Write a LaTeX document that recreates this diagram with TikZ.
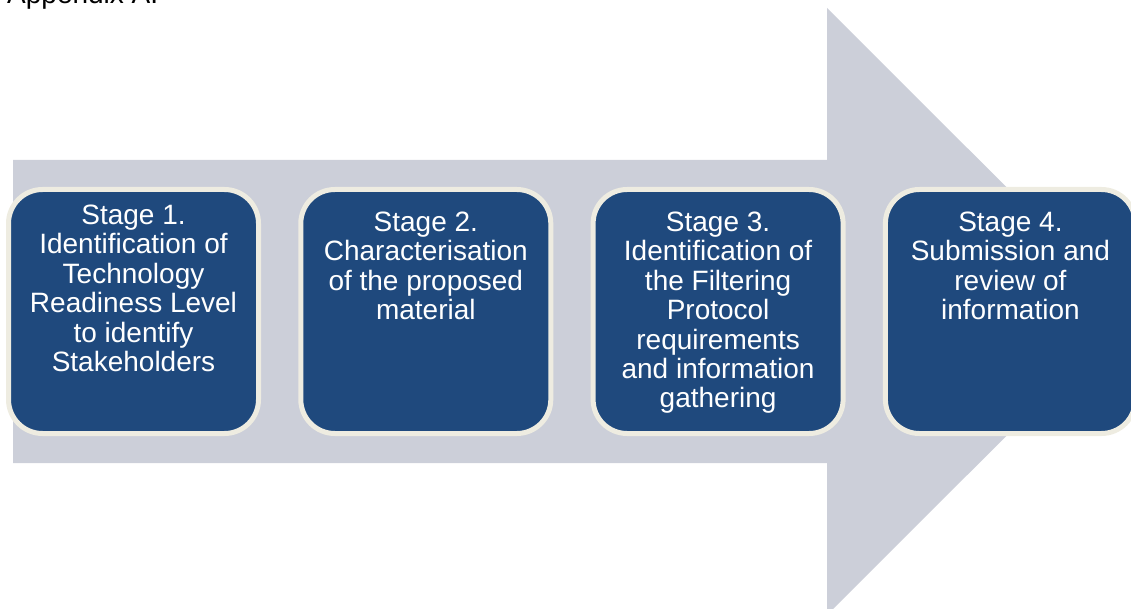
\documentclass[tikz,border=0pt]{standalone}
\usepackage{fontspec}
\setmainfont{Liberation Sans}
\usetikzlibrary{positioning}
\definecolor{stageblue}{RGB}{31,73,125}
\definecolor{stagerim}{RGB}{238,236,225}
\definecolor{arrowgray}{RGB}{204,207,217}

\begin{document}
\begin{tikzpicture}[x=1pt, y=-1pt, line join=miter]

% --------- styles ----------
\tikzset{
  stagebox/.style={draw=stagerim, line width=5pt, fill=stageblue, rounded corners=34pt,
    minimum width=250pt, minimum height=244pt, inner sep=0pt},
  stagetext/.style={text=white, align=center, inner sep=0pt,
    font=\fontsize{28}{29.4}\selectfont},
  heading/.style={anchor=base west, inner sep=0pt, font=\fontsize{28}{29.4}\selectfont}
}
\def\gap{37.3pt}   % space between stage boxes

\clip (0,0) rectangle (1131,609);
\useasboundingbox (0,0) rectangle (1131,609);

% ===================== background arrow =====================
\fill[arrowgray] (13,160) -- (827,160) -- (827,8) -- (1131,311.5)
  -- (827,615) -- (827,463) -- (13,463) -- cycle;

% heading (cut by the page edge)
\node[heading] (title) at (7,3.5) {Appendix A.};

% ===================== stage boxes =====================
\node[stagebox] (s1) at (133.5,311.5) {};
\node[stagebox, right=\gap of s1] (s2) {};
\node[stagebox, right=\gap of s2] (s3) {};
\node[stagebox, right=\gap of s3] (s4) {};

% texts, top aligned
\node[stagetext, below=17.8pt of s1.north] (t1)
  {Stage 1.\\Identification of\\Technology\\Readiness Level\\to identify\\Stakeholders};
\node[stagetext, below=24.8pt of s2.north] (t2)
  {Stage 2.\\Characterisation\\of the proposed\\material};
\node[stagetext, below=24.8pt of s3.north] (t3)
  {Stage 3.\\Identification of\\the Filtering\\Protocol\\requirements\\and information\\gathering};
\node[stagetext, below=24.8pt of s4.north] (t4)
  {Stage 4.\\Submission and\\review of\\information};

\end{tikzpicture}
\end{document}
